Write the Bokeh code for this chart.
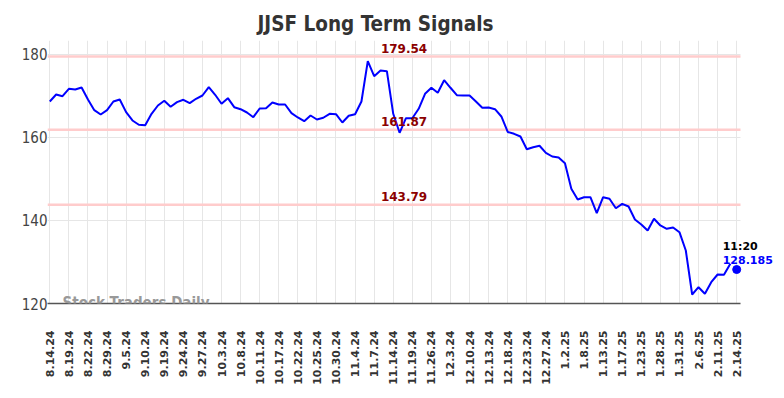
import math
from bokeh.plotting import figure
from bokeh.models import FixedTicker, Range1d, Label
from bokeh.embed import file_html
from bokeh.resources import INLINE

tick_labels = ["8.14.24", "8.19.24", "8.22.24", "8.29.24", "9.5.24", "9.10.24", "9.19.24",
               "9.24.24", "9.27.24", "10.3.24", "10.8.24", "10.11.24", "10.17.24", "10.22.24",
               "10.25.24", "10.30.24", "11.4.24", "11.7.24", "11.14.24", "11.19.24", "11.26.24",
               "12.3.24", "12.10.24", "12.13.24", "12.18.24", "12.23.24", "12.27.24", "1.2.25",
               "1.8.25", "1.13.25", "1.17.25", "1.23.25", "1.28.25", "1.31.25", "2.6.25",
               "2.11.25", "2.14.25"]

prices = [168.67, 170.36, 169.95, 171.73, 171.57, 172.05, 169.16, 166.58, 165.54, 166.58,
          168.67, 169.16, 166.10, 164.10, 163.06, 162.96, 165.71, 167.71, 168.84, 167.40,
          168.51, 169.08, 168.27, 169.33, 170.12, 172.12, 170.29, 168.12, 169.47, 167.30,
          166.82, 166.02, 164.89, 166.99, 167.06, 168.43, 167.95, 167.95, 165.86, 164.82,
          163.93, 165.30, 164.34, 164.75, 165.71, 165.61, 163.61, 165.23, 165.61, 168.67,
          178.39, 174.77, 176.14, 175.98, 165.71, 161.13, 164.65, 164.65, 166.92, 170.53,
          171.98, 170.77, 173.81, 171.98, 170.19, 170.12, 170.12, 168.67, 167.16, 167.23,
          166.82, 165.06, 161.33, 160.89, 160.24, 157.18, 157.66, 158.00, 156.31, 155.42,
          155.18, 153.81, 147.64, 145.06, 145.61, 145.61, 141.76, 145.61, 145.23, 142.96,
          144.02, 143.37, 140.24, 139.04, 137.59, 140.41, 138.80, 138.00, 138.31, 137.18,
          132.77, 122.17, 123.93, 122.34, 125.13, 126.99, 126.92, 129.57]

last_price = 128.185
last_time = "11:20"
levels = [179.54, 161.87, 143.79]
level_texts = ["179.54", "161.87", "143.79"]
y_ticks = [120, 140, 160, 180]
watermark = "Stock Traders Daily"
title = "JJSF Long Term Signals"

step = 3
xs = list(range(len(prices)))
last_x = len(prices)
tick_pos = [i * step for i in range(len(tick_labels))]

x0, x1 = -0.36, 108.6          # visible chart area
px_per_unit = 693 / (x1 - x0)  # frame of 693px for the chart area
x_end = x0 + 729 / px_per_unit  # extended frame so end labels are not clipped

p = figure(width=776, height=390, output_backend="svg", toolbar_location=None,
           x_range=Range1d(x0, x_end), y_range=Range1d(120, 183.37),
           min_border_left=47, min_border_right=0, min_border_top=40, min_border_bottom=87)
p.outline_line_color = None
p.background_fill_color = "white"
p.border_fill_color = "white"

p.title.text = title
p.title.align = "left"
p.title.offset = 210
p.title.text_font = "DejaVu Sans Condensed"
p.title.text_font_size = "20.5px"
p.title.text_font_style = "bold"
p.title.text_color = "#333333"
p.title.standoff = 9

# grids
p.xgrid.ticker = FixedTicker(ticks=tick_pos)
p.xgrid.grid_line_color = "#e6e6e6"
p.ygrid.grid_line_color = None
p.segment(x0=[x0] * len(y_ticks), y0=y_ticks, x1=[x1] * len(y_ticks), y1=y_ticks,
          line_color="#e6e6e6", line_width=1)

# x axis
p.xaxis.ticker = FixedTicker(ticks=tick_pos)
p.xaxis.bounds = (x0, x1)
p.xaxis.major_label_overrides = {pos: lab for pos, lab in zip(tick_pos, tick_labels)}
p.xaxis.major_label_orientation = math.pi / 2
p.xaxis.major_label_text_font = "DejaVu Sans"
p.xaxis.major_label_text_font_style = "bold"
p.xaxis.major_label_text_font_size = "11px"
p.xaxis.major_label_text_color = "#333333"
p.xaxis.major_tick_line_color = None
p.xaxis.minor_tick_line_color = None
p.xaxis.axis_line_color = "#555555"
p.xaxis.axis_line_width = 1.5
p.xaxis.major_label_standoff = 21

# y axis
p.yaxis.ticker = FixedTicker(ticks=y_ticks)
p.yaxis.axis_line_color = None
p.yaxis.major_tick_line_color = None
p.yaxis.minor_tick_line_color = None
p.yaxis.major_tick_out = 0
p.yaxis.major_tick_in = 0
p.yaxis.major_label_text_font = "DejaVu Sans Condensed"
p.yaxis.major_label_text_font_size = "15px"
p.yaxis.major_label_text_color = "#444444"
p.yaxis.major_label_standoff = 0

# level lines
p.segment(x0=[x0] * len(levels), y0=levels, x1=[x1] * len(levels), y1=levels,
          line_color="#ffcccc", line_width=2.5)
for lv, txt in zip(levels, level_texts):
    p.add_layout(Label(x=55.7, y=lv, text=txt, text_align="center", text_baseline="middle",
                       y_offset=8, text_font="DejaVu Sans", text_font_style="bold",
                       text_font_size="12px", text_color="#8b0000"))

p.line(xs, prices, line_color="#0000ff", line_width=2)
p.scatter([last_x], [last_price], size=8, color="#0000ff")

p.add_layout(Label(x=last_x, y=last_price, text=last_time, x_offset=-14, y_offset=23,
                   text_align="left", text_baseline="middle", text_font="DejaVu Sans",
                   text_font_style="bold", text_font_size="11px", text_color="#000000"))
p.add_layout(Label(x=last_x, y=last_price, text=f"{last_price:.3f}", x_offset=-14, y_offset=10,
                   text_align="left", text_baseline="middle", text_font="DejaVu Sans",
                   text_font_style="bold", text_font_size="11px", text_color="#0000ff"))

p.add_layout(Label(x=2.0, y=120.24, text=watermark, text_align="left", text_baseline="middle",
                   text_font="DejaVu Sans Condensed", text_font_style="bold",
                   text_font_size="15px", text_color="#999999"))

open("out.html", "w").write(file_html(p, INLINE))
